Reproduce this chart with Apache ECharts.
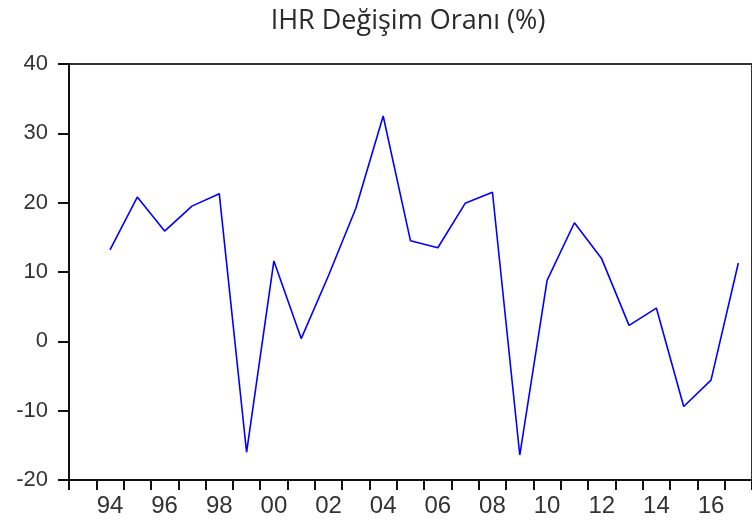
<!DOCTYPE html>
<html>
<head>
<meta charset="utf-8">
<script src="https://cdn.jsdelivr.net/npm/echarts@6/dist/echarts.min.js"></script>
<style>html,body{margin:0;padding:0;background:#fff;}#c{width:752px;height:530px;}</style>
</head>
<body>
<div id="c"></div>
<script>
const years = ['1993','1994','1995','1996','1997','1998','1999','2000','2001','2002','2003','2004','2005','2006','2007','2008','2009','2010','2011','2012','2013','2014','2015','2016','2017'];
const ihrChange = [null, 13.2, 20.8, 15.9, 19.5, 21.3, -16.0, 11.6, 0.4, 9.5, 19.2, 32.5, 14.5, 13.5, 19.9, 21.5, -16.4, 8.8, 17.1, 11.9, 2.3, 4.8, -9.4, -5.6, 11.3];
const yTicks = [-20, -10, 0, 10, 20, 30, 40];
const titleText = 'IHR Değişim Oranı (%)';

const chart = echarts.init(document.getElementById('c'), null, {renderer: 'canvas'});
chart.setOption({
  animation: false,
  backgroundColor: '#fff',
  title: {
    text: titleText,
    left: 403, top: 3, textAlign: 'center',
    textStyle: {fontFamily: 'Open Sans', fontSize: 27, fontWeight: 'normal', color: '#2b2b2b'}
  },
  grid: {left: 69, top: 64, width: 687, bottom: 50, show: true, borderColor: '#333', borderWidth: 2, containLabel: false},
  xAxis: {
    type: 'category',
    data: years,
    boundaryGap: true,
    axisLine: {onZero: false, lineStyle: {color: '#111', width: 2}},
    axisTick: {show: true, interval: 0, length: 10, lineStyle: {color: '#111', width: 2}},
    axisLabel: {
      interval: 0,
      formatter: function (v) { return (parseInt(v) % 2 === 0) ? v.slice(2) : ''; },
      fontFamily: 'Liberation Sans', fontSize: 24, color: '#333', margin: 14
    },
    splitLine: {show: false}
  },
  yAxis: {
    type: 'value',
    min: yTicks[0], max: yTicks[yTicks.length - 1], interval: 10,
    axisLine: {show: true, lineStyle: {color: '#111', width: 2}},
    axisTick: {show: true, length: 11, lineStyle: {color: '#111', width: 2}},
    axisLabel: {fontFamily: 'Liberation Sans', fontSize: 22, color: '#333', margin: 21},
    splitLine: {show: false}
  },
  series: [{
    type: 'line',
    data: ihrChange,
    showSymbol: false,
    symbol: 'none',
    lineStyle: {color: '#0000ff', width: 1.6},
    connectNulls: false
  }]
});
</script>
</body>
</html>
